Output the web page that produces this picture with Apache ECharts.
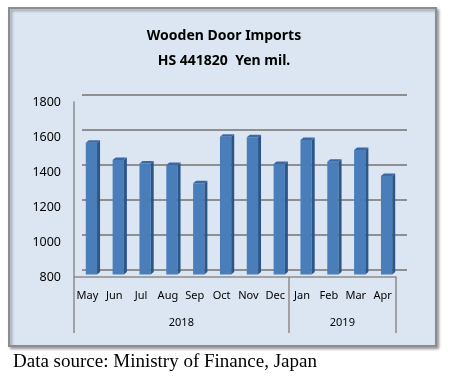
<!DOCTYPE html>
<html>
<head>
<meta charset="utf-8">
<script src="https://cdn.jsdelivr.net/npm/echarts@6/dist/echarts.min.js"></script>
<style>
  html, body { margin: 0; padding: 0; background: #fff; }
  #chart { width: 451px; height: 376px; }
</style>
</head>
<body>
<div id="chart"></div>
<script>
var months = ['May', 'Jun', 'Jul', 'Aug', 'Sep', 'Oct', 'Nov', 'Dec', 'Jan', 'Feb', 'Mar', 'Apr'];
var imports = [1553, 1454, 1435, 1426, 1321, 1587, 1584, 1431, 1569, 1445, 1511, 1363];
var years = ['2018', '2019'];
var yearStart = [0, 8];   // first month index of each year
var yearEnd = [8, 12];

var myChart = echarts.init(document.getElementById('chart'));

// 3D-ish column: front face, dark side, top
function renderBar(params, api) {
    var i = api.value(0);
    var top = api.coord([i, api.value(1)]);
    var base = api.coord([i, 800]);
    var w = api.size([1, 0])[0] * 0.42;
    var x0 = top[0] + 4 - w / 2, x1 = x0 + w;
    var y0 = top[1] - 2.5, y1 = base[1] - 2.5;
    var dx = 3, dy = 2.5;
    return {
        type: 'group',
        children: [
            {type: 'rect', shape: {x: x0, y: y0, width: w, height: y1 - y0},
             style: {fill: '#4a7ebb'}},
            {type: 'polygon', shape: {points: [[x1, y0], [x1 + dx, y0 - dy], [x1 + dx, y1 - dy], [x1, y1]]},
             style: {fill: '#2d5688'}},
            {type: 'polygon', shape: {points: [[x0, y0], [x0 + dx, y0 - dy], [x1 + dx, y0 - dy], [x1, y0]]},
             style: {fill: '#3c69a3'}}
        ]
    };
}

var yearTicks = yearStart.concat([yearEnd[yearEnd.length - 1]]);
var yearMids = years.map(function (y, k) { return (yearStart[k] + yearEnd[k]) / 2; });

option = {
    textStyle: {fontFamily: 'Noto Sans'},
    title: [
        {
            text: 'Wooden Door Imports\nHS 441820  Yen mil.',
            left: 219,
            top: 19,
            textAlign: 'center',
            textStyle: {fontSize: 14, fontWeight: 'bold', color: '#000', lineHeight: 25, fontFamily: 'Noto Sans'}
        },
        {
            text: 'Data source: Ministry of Finance, Japan',
            left: 8,
            top: 348,
            textStyle: {fontSize: 19, fontWeight: 'normal', color: '#000', fontFamily: 'Liberation Serif'}
        }
    ],
    graphic: [
        {
            type: 'rect',
            z: -10,
            shape: {x: 9, y: 8, width: 427, height: 338},
            style: {fill: '#dce6f2', stroke: '#8c8c8c', lineWidth: 2,
                    shadowBlur: 3, shadowOffsetX: 2, shadowOffsetY: 2, shadowColor: 'rgba(0,0,0,0.35)'}
        }
    ],
    grid: [
        {left: 82, top: 95, width: 325, height: 175},   // back wall
        {left: 74, top: 102, width: 322, height: 175}   // front plane
    ],
    xAxis: [
        {
            gridIndex: 0, type: 'category', data: months,
            axisLine: {show: false}, axisTick: {show: false}, axisLabel: {show: false}
        },
        {
            gridIndex: 1, type: 'category', data: months,
            axisLine: {show: true, lineStyle: {color: '#8c8c8c', width: 1.5}},
            axisTick: {show: false},
            axisLabel: {interval: 0, margin: 13, fontSize: 11, color: '#000'}
        },
        {
            gridIndex: 1, type: 'value', min: 0, max: 12, position: 'bottom',
            axisLine: {show: false},
            splitLine: {show: false},
            axisTick: {show: true, customValues: yearTicks, length: 56, lineStyle: {color: '#8c8c8c', width: 1.5}},
            axisLabel: {
                customValues: yearMids, margin: 40, fontSize: 11, color: '#000',
                formatter: function (v) {
                    var k = yearMids.indexOf(v);
                    return k >= 0 ? years[k] : '';
                }
            }
        }
    ],
    yAxis: [
        {
            gridIndex: 0, type: 'value', min: 800, max: 1800, interval: 200,
            axisLine: {show: false}, axisTick: {show: false}, axisLabel: {show: false},
            splitLine: {show: true, lineStyle: {color: '#8f8f8f', width: 2}}
        },
        {
            gridIndex: 1, type: 'value', min: 800, max: 1800, interval: 200,
            axisLine: {show: true, lineStyle: {color: '#8c8c8c', width: 1.5}},
            axisTick: {show: false},
            splitLine: {show: false},
            axisLabel: {margin: 13, fontSize: 12.5, color: '#000', formatter: function (v) { return String(v); }}
        }
    ],
    series: [
        {
            name: 'Imports',
            type: 'custom',
            xAxisIndex: 1,
            yAxisIndex: 1,
            renderItem: renderBar,
            encode: {x: 0, y: 1},
            data: imports.map(function (v, i) { return [i, v]; }),
            z: 5
        }
    ]
};
myChart.setOption(option);
</script>
</body>
</html>
